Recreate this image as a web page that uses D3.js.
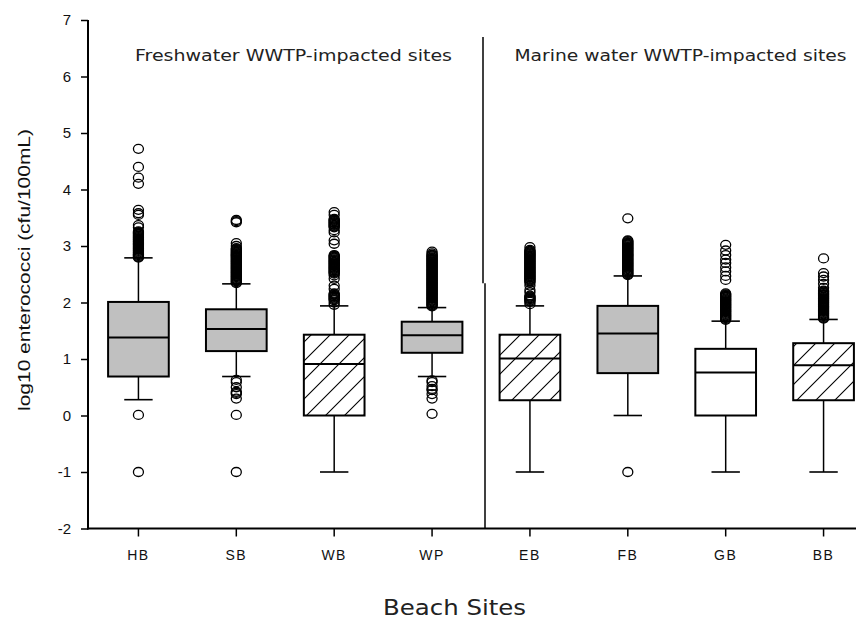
<!DOCTYPE html>
<html>
<head>
<meta charset="utf-8">
<script src="https://cdn.jsdelivr.net/npm/d3@7"></script>
<style>
  html, body { margin: 0; padding: 0; background: #fff; }
  svg { display: block; }
</style>
</head>
<body>
<svg id="chart" width="856" height="621"></svg>
<script>
// ---------------- DATA ----------------
const sites = ["HB", "SB", "WB", "WP", "EB", "FB", "GB", "BB"];
const q1 = [0.69, 1.14, 0.00, 1.11, 0.27, 0.75, 0.00, 0.27];
const medians = [1.38, 1.53, 0.91, 1.42, 1.01, 1.45, 0.76, 0.89];
const q3 = [2.01, 1.88, 1.43, 1.66, 1.43, 1.94, 1.18, 1.28];
const whiskerLow = [0.28, 0.69, -1.00, 0.69, -1.00, 0.00, -1.00, -1.00];
const whiskerHigh = [2.79, 2.33, 1.94, 1.91, 1.94, 2.47, 1.67, 1.70];
const fillTypes = ["gray", "gray", "hatch", "gray", "hatch", "gray", "white", "hatch"];
const yTicks = [-2, -1, 0, 1, 2, 3, 4, 5, 6, 7];
const groupLabels = ["Freshwater WWTP-impacted sites", "Marine water WWTP-impacted sites"];

const outliersHB = [4.72, 4.40, 4.21, 4.10, 3.64, 3.58, 3.55, 3.37, 3.33, 3.26, 3.245, 3.23, 3.215,
  3.20, 3.185, 3.17, 3.155, 3.14, 3.125, 3.11, 3.095, 3.08, 3.065, 3.05, 3.035, 3.02, 3.005, 2.99,
  2.975, 2.96, 2.945, 2.93, 2.915, 2.90, 2.885, 2.87, 2.855, 2.84, 2.825, 2.81, 2.795, 0.01, -1.00];
const outliersSB = [3.46, 3.44, 3.42, 3.05, 3.00, 2.96, 2.945, 2.93, 2.915, 2.90, 2.885, 2.87, 2.855,
  2.84, 2.825, 2.81, 2.795, 2.78, 2.765, 2.75, 2.735, 2.72, 2.705, 2.69, 2.675, 2.66, 2.645, 2.63,
  2.615, 2.60, 2.585, 2.57, 2.555, 2.54, 2.525, 2.51, 2.495, 2.48, 2.465, 2.45, 2.435, 2.42, 2.405,
  2.39, 2.375, 2.36, 2.345, 0.63, 0.59, 0.50, 0.42, 0.40, 0.38, 0.30, 0.01, -1.00];
const outliersWB = [3.60, 3.55, 3.48, 3.465, 3.45, 3.435, 3.42, 3.405, 3.39, 3.375, 3.36, 3.345, 3.33,
  3.28, 3.24, 3.10, 3.04, 2.84, 2.825, 2.81, 2.795, 2.78, 2.765, 2.75, 2.735, 2.72, 2.705, 2.69,
  2.675, 2.66, 2.645, 2.63, 2.615, 2.60, 2.585, 2.57, 2.555, 2.54, 2.525, 2.51, 2.48, 2.42, 2.30,
  2.24, 2.16, 2.145, 2.13, 2.115, 2.10, 2.085, 2.07, 2.055, 2.04, 2.00, 1.96];
const outliersWP = [2.90, 2.87, 2.845, 2.83, 2.815, 2.80, 2.785, 2.77, 2.755, 2.74, 2.725, 2.71, 2.695,
  2.68, 2.665, 2.65, 2.635, 2.62, 2.605, 2.59, 2.575, 2.56, 2.545, 2.53, 2.515, 2.50, 2.485, 2.47,
  2.455, 2.44, 2.425, 2.41, 2.395, 2.38, 2.365, 2.35, 2.335, 2.32, 2.305, 2.29, 2.275, 2.26, 2.245,
  2.23, 2.215, 2.20, 2.185, 2.17, 2.155, 2.14, 2.125, 2.11, 2.095, 2.08, 2.065, 2.05, 2.035, 2.02,
  2.005, 1.99, 1.975, 1.96, 1.945, 1.93, 0.62, 0.59, 0.52, 0.47, 0.45, 0.38, 0.30, 0.03];
const outliersEB = [2.98, 2.93, 2.915, 2.90, 2.885, 2.87, 2.855, 2.84, 2.825, 2.81, 2.795, 2.78, 2.765,
  2.75, 2.735, 2.72, 2.705, 2.69, 2.675, 2.66, 2.645, 2.63, 2.615, 2.60, 2.585, 2.57, 2.555, 2.54,
  2.525, 2.51, 2.495, 2.48, 2.465, 2.45, 2.435, 2.42, 2.405, 2.39, 2.37, 2.35, 2.30, 2.22, 2.18,
  2.12, 2.105, 2.09, 2.075, 2.06, 2.045, 2.03, 2.01, 1.97];
const outliersFB = [3.49, 3.10, 3.085, 3.07, 3.055, 3.04, 3.025, 3.01, 2.995, 2.98, 2.965, 2.95, 2.935,
  2.92, 2.905, 2.89, 2.875, 2.86, 2.845, 2.83, 2.815, 2.80, 2.785, 2.77, 2.755, 2.74, 2.725, 2.71,
  2.695, 2.68, 2.665, 2.65, 2.635, 2.62, 2.605, 2.59, 2.575, 2.56, 2.545, 2.53, 2.515, 2.50, 2.485,
  -1.00];
const outliersGB = [3.02, 2.92, 2.84, 2.76, 2.70, 2.62, 2.55, 2.47, 2.40, 2.16, 2.145, 2.13, 2.115,
  2.10, 2.085, 2.07, 2.055, 2.04, 2.025, 2.01, 1.995, 1.98, 1.965, 1.95, 1.935, 1.92, 1.905, 1.89,
  1.875, 1.86, 1.845, 1.83, 1.815, 1.80, 1.785, 1.77, 1.755, 1.74, 1.725, 1.71, 1.695];
const outliersBB = [2.78, 2.52, 2.46, 2.40, 2.33, 2.26, 2.21, 2.195, 2.18, 2.165, 2.15, 2.135, 2.12,
  2.105, 2.09, 2.075, 2.06, 2.045, 2.03, 2.015, 2.00, 1.985, 1.97, 1.955, 1.94, 1.925, 1.91, 1.895,
  1.88, 1.865, 1.85, 1.835, 1.82, 1.805, 1.79, 1.775, 1.76, 1.745, 1.73, 1.715];
const outliers = [outliersHB, outliersSB, outliersWB, outliersWP, outliersEB, outliersFB, outliersGB, outliersBB];

// ---------------- LAYOUT ----------------
const axisX = 88;
const svg = d3.select("#chart");

const x = d3.scaleBand().domain(sites).range([89.5, 872.5]).padding(0);
const y = d3.scaleLinear().domain([-2, 7]).range([528.5, 20]);
const bw = x.bandwidth();
const boxW = bw * 0.62;
const capW = bw * 0.29;
const cx = s => x(s) + bw / 2;

// hatch pattern
const defs = svg.append("defs");
const pat = defs.append("pattern")
  .attr("id", "hatch").attr("patternUnits", "userSpaceOnUse")
  .attr("width", 19).attr("height", 19);
pat.append("rect").attr("width", 19).attr("height", 19).attr("fill", "#fff");
pat.append("path")
  .attr("d", "M0,19 L19,0 M-5,5 L5,-5 M14,24 L24,14")
  .attr("stroke", "#000").attr("stroke-width", 1.1);

const fillOf = t => t === "gray" ? "#c0c0c0" : (t === "hatch" ? "url(#hatch)" : "#ffffff");

const data = sites.map((s, i) => ({
  site: s, q1: q1[i], med: medians[i], q3: q3[i],
  lo: whiskerLow[i], hi: whiskerHigh[i], fill: fillTypes[i], out: outliers[i]
}));

const g = svg.append("g");
const box = g.selectAll("g.box").data(data).enter().append("g").attr("class", "box");

// whiskers
box.append("line")
  .attr("x1", d => cx(d.site)).attr("x2", d => cx(d.site))
  .attr("y1", d => y(d.q3)).attr("y2", d => y(d.hi))
  .attr("stroke", "#000").attr("stroke-width", 1.5);
box.append("line")
  .attr("x1", d => cx(d.site)).attr("x2", d => cx(d.site))
  .attr("y1", d => y(d.q1)).attr("y2", d => y(d.lo))
  .attr("stroke", "#000").attr("stroke-width", 1.5);
box.append("line")
  .attr("x1", d => cx(d.site) - capW / 2).attr("x2", d => cx(d.site) + capW / 2)
  .attr("y1", d => y(d.hi)).attr("y2", d => y(d.hi))
  .attr("stroke", "#000").attr("stroke-width", 1.6);
box.append("line")
  .attr("x1", d => cx(d.site) - capW / 2).attr("x2", d => cx(d.site) + capW / 2)
  .attr("y1", d => y(d.lo)).attr("y2", d => y(d.lo))
  .attr("stroke", "#000").attr("stroke-width", 1.6);

box.append("rect")
  .attr("x", d => cx(d.site) - boxW / 2)
  .attr("y", d => y(d.q3))
  .attr("width", boxW)
  .attr("height", d => y(d.q1) - y(d.q3))
  .attr("fill", d => fillOf(d.fill))
  .attr("stroke", "#000").attr("stroke-width", 2);
box.append("line")
  .attr("x1", d => cx(d.site) - boxW / 2).attr("x2", d => cx(d.site) + boxW / 2)
  .attr("y1", d => y(d.med)).attr("y2", d => y(d.med))
  .attr("stroke", "#000").attr("stroke-width", 2);

// outliers
box.selectAll("ellipse.out").data(d => d.out.map(v => ({ site: d.site, v }))).enter()
  .append("ellipse").attr("class", "out")
  .attr("cx", d => cx(d.site)).attr("cy", d => y(d.v))
  .attr("rx", 5).attr("ry", 4.5)
  .attr("fill", "none").attr("stroke", "#000").attr("stroke-width", 1.3);

// y axis
const yAxis = svg.append("g").attr("transform", `translate(${axisX},0)`)
  .call(d3.axisLeft(y).tickValues(yTicks).tickSize(7).tickSizeOuter(0).tickPadding(10)
    .tickFormat(d => String(d)));
yAxis.select(".domain").remove();
yAxis.selectAll(".tick line").attr("stroke", "#000").attr("stroke-width", 1.5);
yAxis.selectAll(".tick text")
  .attr("font-family", "'Liberation Sans', Arial, sans-serif")
  .style("font-size", "15px").attr("fill", "#111");
svg.append("line")
  .attr("x1", axisX).attr("x2", axisX)
  .attr("y1", y(7)).attr("y2", y(-2) + 1)
  .attr("stroke", "#000").attr("stroke-width", 2);

// x axis
const xAxis = svg.append("g").attr("transform", `translate(0,${y(-2)})`)
  .call(d3.axisBottom(x).tickSize(8).tickSizeOuter(0).tickPadding(14));
xAxis.select(".domain").remove();
xAxis.selectAll(".tick line").attr("stroke", "#000").attr("stroke-width", 1.5);
xAxis.selectAll(".tick text")
  .attr("font-family", "'Liberation Sans', Arial, sans-serif")
  .style("font-size", "14px").attr("letter-spacing", 1.5).attr("fill", "#111");
svg.append("line")
  .attr("x1", axisX - 1).attr("x2", x.range()[1])
  .attr("y1", y(-2)).attr("y2", y(-2))
  .attr("stroke", "#000").attr("stroke-width", 2);

// group divider (with small jog as in reference)
const divX = x("EB");
svg.append("line")
  .attr("x1", divX + 2).attr("x2", divX + 2)
  .attr("y1", y(6.7)).attr("y2", y(2.34))
  .attr("stroke", "#000").attr("stroke-width", 1.5);
svg.append("line")
  .attr("x1", divX + 4).attr("x2", divX + 4)
  .attr("y1", y(2.34)).attr("y2", y(-2))
  .attr("stroke", "#000").attr("stroke-width", 1.5);

// group labels
const grpFont = "'DejaVu Sans', Verdana, sans-serif";
svg.append("text")
  .attr("x", 293.5).attr("y", 61).attr("text-anchor", "middle")
  .attr("font-family", grpFont).attr("font-size", 16).attr("fill", "#222")
  .attr("textLength", 317).attr("lengthAdjust", "spacingAndGlyphs")
  .text(groupLabels[0]);
svg.append("text")
  .attr("x", 680.5).attr("y", 61).attr("text-anchor", "middle")
  .attr("font-family", grpFont).attr("font-size", 16).attr("fill", "#222")
  .attr("textLength", 332).attr("lengthAdjust", "spacingAndGlyphs")
  .text(groupLabels[1]);

// axis titles
svg.append("text")
  .attr("transform", "translate(30,270) rotate(-90)")
  .attr("text-anchor", "middle")
  .attr("font-family", "'Liberation Sans', Arial, sans-serif")
  .attr("font-size", 17).attr("fill", "#111")
  .attr("textLength", 282).attr("lengthAdjust", "spacingAndGlyphs")
  .text("log10 enterococci (cfu/100mL)");
svg.append("text")
  .attr("x", 454.5).attr("y", 615).attr("text-anchor", "middle")
  .attr("font-family", grpFont).attr("font-size", 22).attr("fill", "#222")
  .attr("textLength", 143).attr("lengthAdjust", "spacingAndGlyphs")
  .text("Beach Sites");
</script>
</body>
</html>
